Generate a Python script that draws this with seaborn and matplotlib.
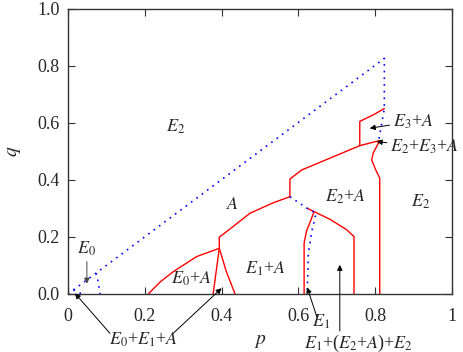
import matplotlib
matplotlib.use('Agg')
import pandas as pd
import matplotlib.pyplot as plt
import seaborn as sns

# ── Data: phase boundaries ─────────────────────────────────────────────────────
# solid red boundaries
e0a_p = [0.209, 0.240, 0.274, 0.335, 0.394]
e0a_q = [0.000, 0.042, 0.078, 0.131, 0.160]
left_leg_p = [0.394, 0.378]
left_leg_q = [0.160, 0.000]
right_leg_p = [0.394, 0.412, 0.435]
right_leg_q = [0.160, 0.080, 0.000]
a_low_p = [0.394, 0.394, 0.422, 0.474, 0.535, 0.578]
a_low_q = [0.160, 0.199, 0.228, 0.283, 0.320, 0.341]
a_up_p = [0.578, 0.578, 0.609, 0.682, 0.760, 0.760, 0.795, 0.824]
a_up_q = [0.341, 0.403, 0.435, 0.476, 0.520, 0.605, 0.628, 0.650]
e3_low_p = [0.760, 0.812]
e3_low_q = [0.520, 0.538]
right_wall_p = [0.812, 0.795, 0.791, 0.800, 0.812, 0.812]
right_wall_q = [0.538, 0.494, 0.470, 0.440, 0.406, 0.000]
e2a_in_p = [0.622, 0.682, 0.726, 0.745, 0.745]
e2a_in_q = [0.301, 0.262, 0.225, 0.201, 0.000]
e1_wall_p = [0.640, 0.621, 0.615, 0.615]
e1_wall_q = [0.285, 0.219, 0.178, 0.000]

# dotted blue boundaries
outer_p = [0.000, 0.824, 0.824, 0.808]
outer_q = [0.000, 0.826, 0.650, 0.528]
e0_p = [0.073, 0.079, 0.083]
e0_q = [0.073, 0.040, 0.000]
tiny_p = [0.014, 0.026, 0.035]
tiny_q = [0.014, 0.007, 0.000]
mid_p = [0.578, 0.622, 0.646, 0.635, 0.626, 0.623]
mid_q = [0.341, 0.301, 0.283, 0.219, 0.143, 0.000]

red_curves = [(e0a_p, e0a_q), (left_leg_p, left_leg_q), (right_leg_p, right_leg_q),
              (a_low_p, a_low_q), (a_up_p, a_up_q), (e3_low_p, e3_low_q),
              (right_wall_p, right_wall_q), (e2a_in_p, e2a_in_q), (e1_wall_p, e1_wall_q)]
blue_curves = [(outer_p, outer_q), (e0_p, e0_q), (tiny_p, tiny_q), (mid_p, mid_q)]

# ── Style ──────────────────────────────────────────────────────────────────────
sns.set_style('ticks')
plt.rcParams['font.family'] = ['Liberation Serif', 'DejaVu Serif']
plt.rcParams['mathtext.fontset'] = 'stix'
plt.rcParams['xtick.direction'] = 'in'
plt.rcParams['ytick.direction'] = 'in'

fig = plt.figure(figsize=(4.63, 3.52), dpi=100)
ax = fig.add_axes([0.147, 0.165, 0.829, 0.810])

# estimator=None keeps vertical segments as drawn (no aggregation on equal p)
for p, q in red_curves:
    d = pd.DataFrame({'p': p, 'q': q})
    sns.lineplot(data=d, x='p', y='q', sort=False, estimator=None,
                 color='#ff0000', lw=1.0, ax=ax)
for p, q in blue_curves:
    d = pd.DataFrame({'p': p, 'q': q})
    sns.lineplot(data=d, x='p', y='q', sort=False, estimator=None,
                 color='#0000ff', lw=1.2, linestyle=(0, (1, 3)), ax=ax)

ax.set_xlim(0, 1)
ax.set_ylim(0, 1)
ax.set_xticks([0, 0.2, 0.4, 0.6, 0.8, 1])
ax.set_xticklabels(['0', '0.2', '0.4', '0.6', '0.8', '1'])
ax.set_yticks([0, 0.2, 0.4, 0.6, 0.8, 1])
ax.set_yticklabels(['0.0', '0.2', '0.4', '0.6', '0.8', '1.0'])
ax.tick_params(top=True, right=True, length=5, width=0.8, labelsize=13, pad=6, color='#333333')
ax.tick_params(axis='x', pad=10)
for s in ax.spines.values():
    s.set_linewidth(1.0)
    s.set_color('#333333')
ax.set_xlabel('$p$', fontsize=14, labelpad=6)
ax.set_ylabel('$q$', fontsize=14, labelpad=10)

# ── Region labels ──────────────────────────────────────────────────────────────
fs = 13
ax.text(0.279, 0.587, '$E_2$', fontsize=fs, ha='center', va='center')
ax.text(0.429, 0.312, '$A$', fontsize=fs, ha='center', va='center')
ax.text(0.721, 0.341, '$E_2$+$A$', fontsize=fs, ha='center', va='center')
ax.text(0.917, 0.324, '$E_2$', fontsize=fs, ha='center', va='center')
ax.text(0.322, 0.053, '$E_0$+$A$', fontsize=fs, ha='center', va='center')
ax.text(0.513, 0.088, '$E_1$+$A$', fontsize=fs, ha='center', va='center')

arw = dict(arrowstyle='-|>', lw=0.7, color='black', mutation_scale=8, shrinkA=0, shrinkB=0)
ax.annotate('$E_0$', xy=(0.049, 0.036), xytext=(0.049, 0.125), fontsize=fs,
            ha='center', va='bottom', arrowprops=dict(arw, color='#444444'))
ax.annotate('', xy=(0.018, 0.002), xytext=(0.109, -0.138), arrowprops=arw, annotation_clip=False)
ax.annotate('', xy=(0.400, 0.020), xytext=(0.274, -0.138), arrowprops=arw, annotation_clip=False)
ax.text(0.196, -0.161, '$E_0$+$E_1$+$A$', fontsize=fs, ha='center', va='center')
ax.annotate('', xy=(0.623, 0.023), xytext=(0.648, -0.08), arrowprops=arw, annotation_clip=False)
ax.text(0.660, -0.098, '$E_1$', fontsize=fs, ha='center', va='center')
ax.annotate('', xy=(0.708, 0.102), xytext=(0.708, -0.130), arrowprops=arw, annotation_clip=False)
ax.text(0.756, -0.172, '$E_1$+($E_2$+$A$)+$E_2$', fontsize=fs, ha='center', va='center')
ax.annotate('$E_3$+$A$', xy=(0.786, 0.581), xytext=(0.846, 0.605), fontsize=fs,
            ha='left', va='center', arrowprops=arw)
ax.annotate('$E_2$+$E_3$+$A$', xy=(0.804, 0.534), xytext=(0.839, 0.517), fontsize=fs,
            ha='left', va='center', arrowprops=arw, annotation_clip=False)

plt.savefig('out.png', dpi=100)
